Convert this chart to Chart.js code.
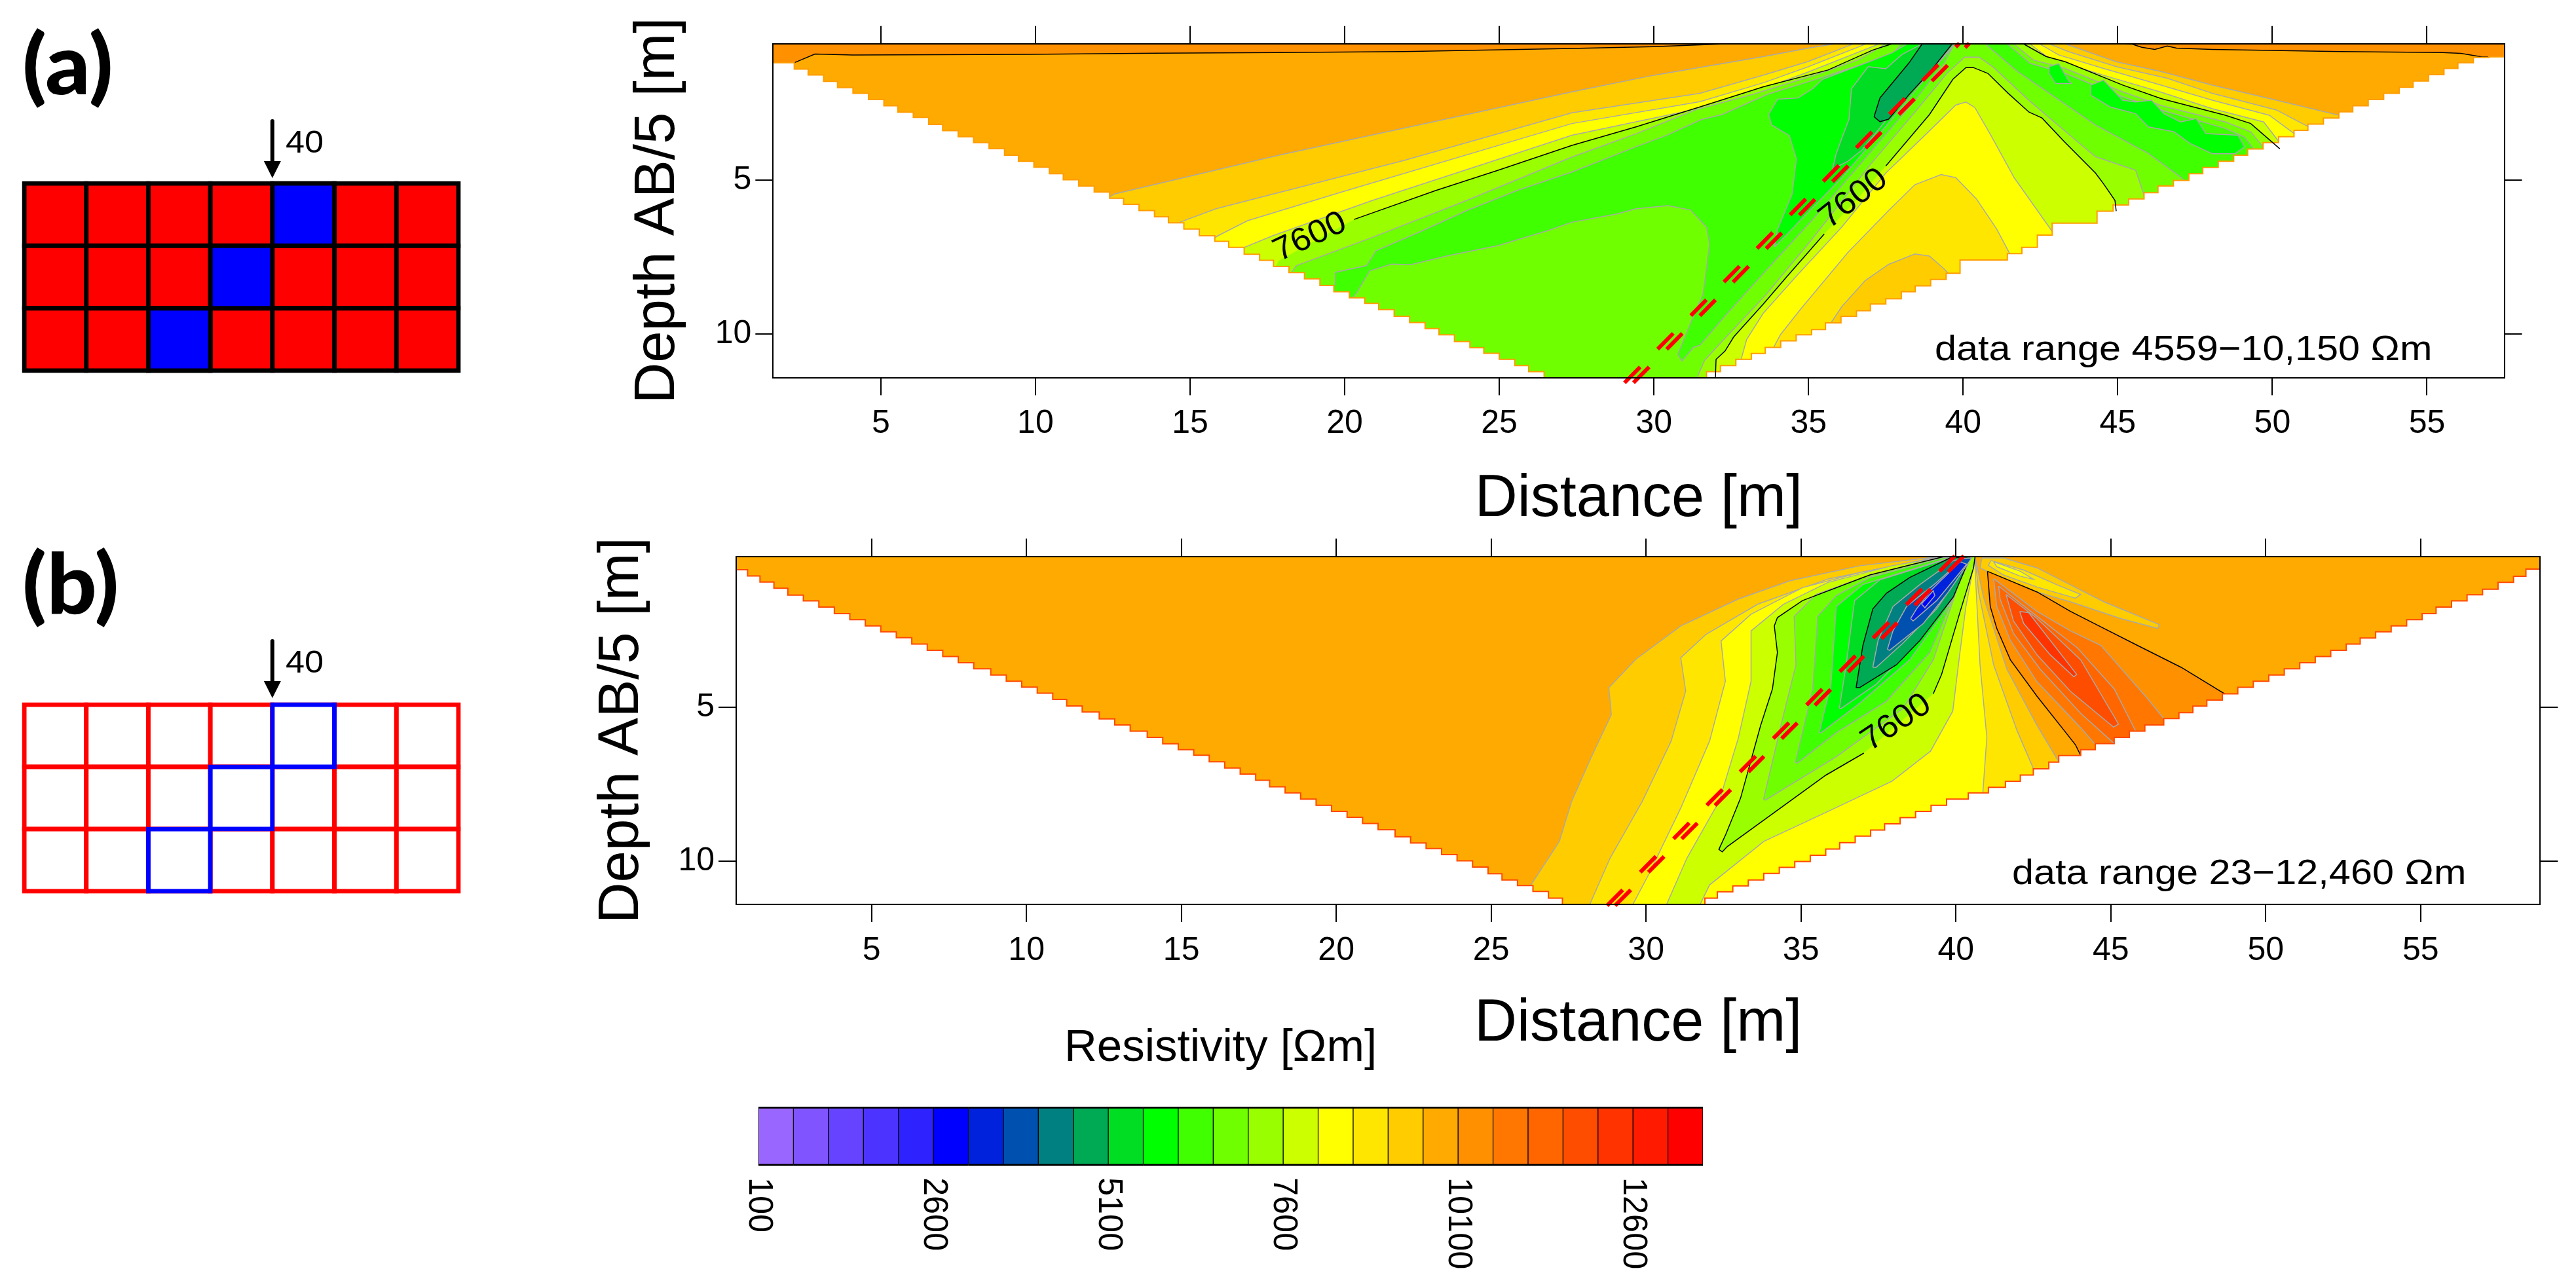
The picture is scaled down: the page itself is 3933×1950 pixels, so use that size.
<!DOCTYPE html>
<html>
<head>
<meta charset="utf-8">
<title>Resistivity sections</title>
<script src="https://cdn.jsdelivr.net/npm/chart.js@4"></script>
<style>
  body { margin: 0; background: #fff; width: 3933px; height: 1950px; overflow: hidden; position: relative; }
  canvas { position: absolute; }
</style>
</head>
<body>
<script>
// colour bar
const scaleEdges = [100,600,1100,1600,2100,2600,3100,3600,4100,4600,5100,5600,6100,6600,7100,7600,8100,8600,9100,9600,10100,10600,11100,11600,12100,12600,13100,13600];
const bandColors = ["#9966FF","#8055FF","#6644FF","#4D33FF","#2E22FF","#0000FF","#0022DD","#0050B0","#008080","#00AA55","#00DD22","#00FF00","#40FF00","#70FF00","#99FF00","#CCFF00","#FFFF00","#FFE600","#FFCC00","#FFAA00","#FF9000","#FF7700","#FF6600","#FF4D00","#FF3300","#FF1A00","#FF0000"];
const colorTicks = [100,2600,5100,7600,10100,12600];

// axis ticks
const xTicks = [5,10,15,20,25,30,35,40,45,50,55];
const yTicks = [5,10];

// block models: which column is the blue one in each row
const modelRows = ["row1","row2","row3"];
const modelColumns = [0,1,2,3,4,5,6];
const blueColumn = [4,3,2];

// section (a): lower edge of the pseudosection [distance, depth]
const aEdgeLeft = [[1.52,.96],[2.2,1.17],[2.65,1.38],[3.15,1.57],[3.6,1.78],[4.1,1.98],[4.6,2.17],[5.1,2.37],[5.55,2.57],[6.05,2.78],[6.55,2.95],[7,3.18],[7.5,3.38],[8,3.58],[8.5,3.77],[9,3.97],[9.45,4.18],[9.95,4.38],[10.45,4.57],[10.9,4.78],[11.4,4.98],[11.9,5.18],[12.4,5.38],[12.85,5.58],[13.35,5.78],[13.85,5.98],[14.3,6.18],[14.8,6.38],[15.3,6.58],[15.8,6.8],[16.25,6.98],[16.75,7.18],[17.25,7.4],[17.7,7.6],[18.2,7.8],[18.7,8],[19.2,8.2],[19.65,8.42],[20.15,8.62],[20.65,8.82],[21.1,9],[21.6,9.2],[22.1,9.42],[22.6,9.62],[23.05,9.82],[23.55,10.02],[24.05,10.24],[24.5,10.44],[25,10.62],[25.5,10.82],[25.95,11.02],[26.45,11.22],[26.95,11.42],[27.4,11.5]];
const aEdgeRight = [[31.7,11.5],[32.15,11.22],[32.65,11.02],[33.15,10.82],[33.6,10.63],[34.1,10.43],[34.6,10.22],[35.1,10.02],[35.55,9.85],[36.05,9.63],[36.55,9.42],[37,9.24],[37.5,9.02],[38,8.85],[38.45,8.62],[38.95,8.43],[39.45,8.22],[39.9,8.02],[41.43,7.59],[41.9,7.38],[42.4,7.18],[42.88,6.78],[44.33,6.39],[44.85,6],[45.35,5.8],[45.85,5.6],[46.3,5.4],[46.8,5.18],[47.3,5],[47.75,4.78],[48.25,4.58],[48.75,4.38],[49.2,4.18],[49.7,3.98],[50.2,3.77],[50.7,3.58],[51.15,3.37],[51.65,3.17],[52.15,2.97],[52.6,2.77],[53.1,2.57],[53.6,2.37],[54.1,2.17],[54.55,1.97],[55.05,1.77],[55.55,1.56],[56,1.36],[56.5,1.17],[57,1],[57.6,.98]];

// section (a): contour bands
const aBase = [[1,0],[58,0],[58,13],[1,13]];
const aOrange = [[1.4,1.3],[2.16,1.19],[2.87,.89],[4.09,.92],[9.76,.9],[13.82,.865],[17.87,.84],[21.92,.81],[27.35,.71],[30,.65],[32.3,.56],[33,.3],[44.5,.3],[44.95,.56],[45.47,.57],[45.78,.67],[46.2,.74],[46.6,.63],[46.9,.7],[48.06,.74],[52.2,.81],[55.5,.84],[56.1,.87],[56.76,.98],[57.5,1],[58,1],[58,13],[1.4,13]];
const aAmber = [[12.3,5.6],[12.56,5.44],[17.87,4.18],[27.35,2.12],[30,1.58],[33.56,.97],[35,.7],[35.84,.56],[36,.3],[43,.3],[43.3,.56],[44.95,1.14],[46.4,1.46],[48.06,1.9],[50.13,2.39],[52.6,2.99],[53,3.2],[53,13],[12.3,13]];
const aGold = [[14.4,6.5],[14.67,6.36],[15.84,5.92],[21.92,4.35],[27.35,2.8],[31.49,2.17],[33.56,1.57],[35,1.13],[36.46,.56],[36.6,.3],[42.6,.3],[42.78,.56],[43.4,.81],[44.95,1.3],[46.6,1.68],[48.06,2.17],[50.13,2.71],[51.48,3.42],[52,3.6],[52,13],[14.4,13]];
const aYellow = [[15.6,7],[15.9,6.8],[16.86,6.31],[19.9,5.38],[27.35,3.15],[31.49,2.44],[33.56,1.82],[35,1.3],[36.87,.56],[37,.3],[42.3,.3],[42.47,.56],[43.09,.92],[44.54,1.36],[46.4,1.9],[48.06,2.39],[49.9,2.88],[50.86,3.59],[51.2,3.8],[51.2,13],[15.6,13]];
const aLime = [[16.5,7.4],[16.75,7.18],[17.67,6.8],[20.9,5.65],[27.35,3.53],[31.49,2.66],[33.56,2],[35,1.47],[37.29,.56],[37.4,.3],[42,.3],[42.16,.56],[42.78,1.03],[44.54,1.58],[46.4,2.13],[48.06,2.67],[49.72,3.1],[50.34,3.91],[50.7,4.1],[50.7,13],[16.5,13]];
const aChartreuse = [[17.7,7.9],[17.87,7.61],[20.3,6.27],[22.94,5.33],[24.96,4.67],[27.35,3.86],[29.42,3.26],[31.49,2.61],[33.56,1.95],[35.63,1.41],[37.08,.76],[37.7,.56],[37.8,.3],[41.8,.3],[41.95,.56],[42.68,.97],[43.3,1.14],[45.16,1.9],[46.4,2.34],[48.48,2.88],[49.3,3.15],[50.24,3.97],[50.6,4.2],[50.6,13],[17.7,13]];
const aLawn = [[18.2,8.1],[18.44,7.77],[20.9,6.85],[23.95,5.65],[27.35,4.24],[29.46,3.47],[31.35,2.7],[33.24,2.19],[35.13,1.6],[36.64,1.07],[37.5,.556],[37.6,.3],[41.5,.3],[41.64,.56],[42.26,1.08],[43.3,1.36],[45.16,2.12],[46.4,2.56],[48.48,3.1],[49.3,3.42],[49.88,4.13],[50.2,4.4],[50.2,13],[18.2,13]];
const aBright = [[19.5,8.6],[19.69,8.37],[19.69,7.99],[20.71,7.77],[21.01,7.29],[22.53,6.63],[23.95,5.98],[25.57,5.33],[27.35,4.73],[29.46,3.89],[30.4,3.54],[31.54,3.02],[32.2,2.86],[33.7,2.19],[35.13,1.75],[36.74,1.22],[37.7,.92],[38,.556],[38.1,.3],[41.3,.3],[41.43,.56],[42.16,1.19],[43.3,1.52],[45.16,2.28],[46.4,2.71],[48.48,3.31],[49.1,3.59],[49.55,4.18],[49.9,4.4],[49.9,13],[19.5,13]];
const aPure = [[33.9,7.16],[34,6.59],[34.47,5.45],[34.61,4.3],[34.38,3.54],[33.81,3.2],[33.71,2.86],[34,2.36],[34.66,2.32],[35.13,2.02],[35.46,1.71],[36.93,1.15],[37.7,.85],[38.2,.556],[38.3,.3],[39.8,.3],[39.76,.556],[38.91,1.52],[37.5,3.24],[36.08,4.91],[34.75,6.28],[34.28,6.78]];
const aEmerald = [[35.75,4.76],[35.89,4.15],[36.08,3.62],[36.31,3.01],[36.39,2.02],[36.93,1.3],[37.5,1.37],[38.02,.91],[38.68,.556],[38.7,.3],[39.75,.3],[39.72,.556],[38.91,1.49],[37.78,2.7],[36.74,4],[36.27,4.38],[35.89,4.57]];
const aJade = [[37.12,2.93],[37.31,2.32],[37.68,1.87],[38.25,1.18],[38.68,.556],[38.8,.3],[39.7,.3],[39.65,.556],[38.91,1.49],[38.25,2.21],[37.59,3.01],[37.31,3.09]];
const aBlobNear = [[42.78,1.3],[43.09,1.2],[43.4,1.74],[43.5,1.85],[42.99,1.85],[42.78,1.52]];
const aBlobFar = [[44.13,1.9],[44.54,1.74],[45.16,2.39],[45.58,2.45],[46.09,2.39],[46.5,2.83],[47.03,3.1],[47.54,2.99],[47.85,3.48],[48.89,3.53],[49.1,3.91],[48.79,4.13],[48.06,4.13],[47.34,3.8],[46.82,3.42],[45.99,3.26],[45.58,2.83],[44.75,2.61],[44.13,2.23]];
const aLowerLawn = [[20.2,8.9],[20.4,8.64],[20.81,7.94],[21.52,7.72],[22.13,7.74],[23.34,7.45],[24.96,7.12],[26.58,6.63],[27.35,6.36],[28.8,6.09],[29.42,5.92],[30.46,5.82],[31.18,5.96],[31.7,6.52],[31.8,7.07],[31.59,8.7],[31.28,9.41],[30.77,10.66],[30.91,10.87],[31.28,10.43],[31.49,10.36],[32.3,9.41],[33.53,8.04],[35.13,6.28],[37.02,4.07],[38.44,2.4],[39.39,1.18],[39.72,.556],[39.8,.3],[40.6,.3],[40.71,.556],[41.75,1.45],[44.28,3.2],[46,4.13],[47.03,4.89],[47.34,5.2],[47.7,5.4],[47.7,13],[20.2,13]];
const aPeakChartreuse = [[31.4,11.41],[31.64,10.85],[32.2,10.24],[33.62,8.72],[35.13,6.89],[37.02,4.46],[38.44,2.78],[39.48,1.52],[40.05,.99],[40.52,.99],[40.99,1.33],[42.13,2.4],[43.64,3.69],[44.28,4.23],[45.58,4.67],[45.89,5.6],[46.5,5.9],[46.5,13],[31.4,13]];
const aPeakLime = [[31.99,13],[31.99,11.41],[32.01,10.82],[32.3,10.55],[32.58,10.09],[33.53,9.03],[34.28,8.15],[35.51,6.74],[36.55,5.64],[37.5,4.53],[38.91,2.86],[39.67,1.71],[40.09,1.33],[40.33,1.33],[40.8,1.52],[41.46,2.17],[42.13,2.78],[42.55,2.97],[43.26,3.73],[44.28,4.76],[44.54,5.11],[44.91,5.65],[44.95,6],[45.3,6.3],[45.3,13]];
const aPeakYellow = [[32.82,13],[32.82,10.82],[33,10.17],[33.53,9.33],[34.61,8.11],[36.08,6.51],[37.5,4.76],[38.91,3.39],[39.76,2.55],[40.09,2.45],[40.38,2.63],[40.9,3.54],[41.65,4.91],[42.88,6.66],[43.2,6.9],[43.2,13]];
const aPeakGold = [[33.6,13],[33.81,10.55],[34.09,10.02],[34.75,9.18],[36.27,7.35],[37.59,5.98],[38.44,5.14],[39.29,4.81],[39.76,4.91],[40.43,5.6],[41.09,6.59],[41.51,7.39],[41.8,7.6],[41.8,13]];
const aPeakAmber = [[35.4,13],[35.6,9.82],[36.08,9.1],[36.83,8.26],[37.59,7.73],[38.44,7.39],[38.91,7.46],[39.39,7.88],[39.67,8.19],[40,8.4],[40,13]];

// section (a): the 7600 contour, broken where its labels sit
const aContourUpper = [[20.3,6.27],[22.94,5.33],[24.96,4.67],[27.35,3.86],[29.42,3.26],[31.49,2.61],[33.56,1.95],[35.63,1.41],[37.08,.76],[37.7,.56]];
const aContourUpperRight = [[41.95,.56],[42.68,.97],[43.3,1.14],[45.16,1.9],[46.4,2.34],[48.48,2.88],[49.3,3.15],[50.24,3.97]];
const aContourLower = [[31.99,11.41],[32.01,10.82],[32.3,10.55],[32.58,10.09],[33.53,9.03],[34.28,8.15],[35.51,6.74]];
const aContourPeak = [[37.5,4.53],[38.91,2.86],[39.67,1.71],[40.09,1.33],[40.33,1.33],[40.8,1.52],[41.46,2.17],[42.13,2.78],[42.55,2.97],[43.26,3.73],[44.28,4.76],[44.54,5.11],[44.91,5.65],[44.95,6]];

// section (a): dipping dyke
const aDykeLeft = [[29.05,11.58],[39.88,.54]];
const aDykeRight = [[29.34,11.58],[40.2,.54]];

// section (b): lower edge of the pseudosection
const bEdgeLeft = [[.63,.45],[1,.55],[1.4,.75],[1.85,.95],[2.3,1.15],[2.8,1.37],[3.3,1.56],[3.8,1.76],[4.3,1.97],[4.8,2.17],[5.3,2.37],[5.8,2.56],[6.3,2.75],[6.8,2.96],[7.3,3.16],[7.8,3.36],[8.3,3.56],[8.85,3.76],[9.35,3.96],[9.85,4.16],[10.35,4.35],[10.85,4.55],[11.3,4.75],[11.8,4.96],[12.35,5.16],[12.85,5.38],[13.35,5.58],[13.9,5.78],[14.4,5.98],[14.9,6.19],[15.4,6.38],[15.9,6.56],[16.4,6.77],[16.9,6.97],[17.4,7.17],[17.85,7.37],[18.35,7.58],[18.85,7.78],[19.35,7.98],[19.85,8.18],[20.35,8.38],[20.85,8.57],[21.35,8.77],[21.9,8.97],[22.4,9.2],[22.9,9.4],[23.4,9.58],[23.9,9.78],[24.4,9.98],[24.9,10.18],[25.35,10.4],[25.85,10.6],[26.35,10.78],[26.85,10.97],[27.3,11.19],[27.7,11.42]];
const bEdgeRight = [[31.9,11.42],[32.3,11.19],[32.8,10.98],[33.3,10.79],[33.8,10.6],[34.3,10.39],[34.8,10.19],[35.3,10],[35.8,9.8],[36.25,9.6],[36.75,9.39],[37.25,9.18],[37.7,8.98],[38.2,8.78],[38.7,8.58],[39.2,8.38],[39.7,8.18],[40.4,7.98],[41.05,7.78],[41.6,7.6],[42.08,7.4],[42.5,7.2],[43,7],[43.32,6.78],[44.03,6.57],[44.5,6.38],[45.11,6.18],[45.6,5.98],[46.1,5.78],[46.71,5.58],[47.2,5.37],[47.65,5.18],[48.1,4.97],[48.6,4.77],[49.1,4.57],[49.6,4.36],[50.1,4.16],[50.6,3.96],[51.1,3.76],[51.6,3.56],[52.1,3.36],[52.6,3.16],[53.05,2.96],[53.55,2.76],[54.05,2.56],[54.55,2.37],[55.05,2.17],[55.5,1.97],[56,1.76],[56.5,1.56],[57,1.36],[57.5,1.18],[58,.96],[58.4,.76],[59,.53]];

// section (b): contour bands
const bBase = [[0,-1],[60,-1],[60,13],[0,13]];
const bAmber = [[26,13],[26.27,10.78],[27.2,9.35],[27.6,8.05],[28.22,6.65],[28.88,5.24],[28.8,4.37],[29.67,3.45],[31.12,2.37],[32.98,1.5],[34.63,.91],[36.91,.42],[39.49,.12],[39.6,-.2],[40.6,-.2],[40.62,.13],[40.89,1.43],[41.65,3.78],[42.62,5.59],[43.32,6.77],[43.6,7.1],[43.6,13]];
const bGold = [[28.18,13],[28.18,11.4],[28.84,9.89],[29.88,8.05],[30.81,6.1],[31.28,4.48],[31.12,3.4],[31.94,2.64],[33.6,1.67],[35.87,.85],[39.49,.12],[39.6,-.2],[40.6,-.2],[40.62,.13],[40.73,1.27],[41.22,3.63],[41.97,5.75],[42.51,7.01],[42.8,7.3],[42.8,13]];
const bYellow = [[29.57,13],[29.57,11.4],[30.08,10.43],[31.12,8.27],[32.05,6.1],[32.56,4.16],[32.42,2.86],[33.39,1.99],[35.05,1.13],[36.91,.64],[39.59,.12],[39.7,-.2],[40.55,-.2],[40.6,.13],[40.78,3.63],[41,5.98],[40.87,7.78],[41,8.1],[41,13]];
const bLime = [[30.66,13],[30.66,11.4],[31.32,9.89],[32.36,8.05],[32.98,6],[33.39,4.16],[33.39,2.53],[34.43,1.67],[35.87,.96],[37.94,.42],[39.7,.12],[39.8,-.2],[40.6,-.2],[40.63,.12],[40.32,1.77],[40.11,3.4],[39.9,5.13],[39.18,6.43],[37.94,7.4],[35.87,8.38],[33.8,9.35],[32.05,10.76],[31.74,11.4],[31.74,13]];
const bChartreuse = [[32.46,9.69],[32.35,9.61],[32.57,9.13],[33.05,7.95],[33.7,5.59],[34.08,4.41],[34.24,3.23],[34.14,2.37],[34.24,2.1],[35.05,1.55],[37.22,.72],[39.59,.13],[40.62,.13],[40.57,.49],[40.14,1.9],[39.54,3.94],[39.27,4.57],[37.03,6.49],[35.81,7.2],[32.62,9.52]];
const bLawn = [[33.79,7.99],[34.41,5.36],[34.84,3.63],[34.78,2.06],[35.49,1.35],[37,.8],[39.38,.17],[40.35,.13],[40.24,.56],[39.27,3.47],[38.3,5.04],[36.14,6.61],[33.86,8.01]];
const bBright = [[34.82,6.79],[35.38,4.41],[35.54,2.06],[36.14,1.39],[37.22,.8],[39.59,.16],[40.35,.13],[40.35,.41],[39.16,3.23],[37.76,4.81],[36.14,5.83],[34.89,6.81]];
const bPure = [[35.59,5.83],[35.97,4.26],[36.14,1.74],[37,1.03],[39.7,.19],[40.41,.13],[40.41,.33],[39.7,1.82],[38.51,3.47],[36.89,4.88],[35.65,5.83]];
const bEmerald = [[36.24,5.04],[36.46,3.63],[36.73,1.55],[37.54,.88],[39.7,.21],[40.44,.13],[40.44,.25],[39.86,1.51],[38.73,2.92],[37.43,4.26],[36.3,5.04]];
const bJade = [[36.78,4.37],[37,3],[37.32,1.82],[37.76,1.31],[38.51,.8],[39.81,.17],[40.46,.13],[39.92,1.43],[38.84,2.84],[38.08,3.63],[36.89,4.37]];
const bTeal = [[37.32,3.71],[37.49,2.84],[37.97,1.74],[38.84,1.03],[39.92,.25],[40.49,.17],[39.38,1.82],[38.3,2.92],[37.43,3.71]];
const bSteel = [[37.79,3.13],[37.97,2.53],[38.41,1.74],[39.38,.96],[40.24,.19],[40.51,.17],[39.76,1.27],[38.95,2.29],[37.86,3.16]];
const bCobalt = [[38.54,2.13],[38.73,1.82],[39.22,1.19],[40.14,.29],[40.35,.37],[39.38,1.55],[38.62,2.21]];
const bBlue = [[38.89,1.66],[39.27,1.23],[39.32,1.39],[39,1.78]];
const bStripAmber = [[40.84,.17],[41.54,.17],[42.62,.49],[43.7,1.04],[44.78,1.59],[46.57,2.33],[46.51,2.45],[45.32,2.13],[43.7,1.59],[42.08,1.11],[40.78,.49]];
const bStripGold = [[41.13,.25],[42.19,.56],[43.27,1.04],[44.03,1.35],[43.86,1.47],[42.62,1.11],[41.54,.72],[41.05,.41]];
const bStripYellow = [[41.22,.29],[42.08,.6],[42.51,.86],[42.08,.76],[41.32,.45]];
const bFanOrange = [[41.02,.6],[42.62,1.27],[43.7,1.9],[44.78,2.45],[45.86,3],[47.27,3.71],[48.68,4.57],[49,5],[49,13],[44.03,13],[44.03,6.57],[43.86,6.22],[43.49,5.75],[42.62,4.65],[41.76,3.47],[41.32,2.45],[41.11,1.74]];
const bFanDeep = [[41.22,.84],[42.62,1.9],[43.7,2.53],[44.68,3],[46.19,4.73],[46.71,5.37],[47,5.7],[47,13],[44.51,13],[44.51,6.22],[44.03,5.67],[42.62,4.18],[41.76,2.84],[41.32,1.74]];
const bFanRed = [[41.38,1.08],[42.62,2.06],[43.92,3.08],[45.11,4.41],[45.81,5.79],[46.1,6],[46.1,13],[45.11,13],[45.11,6.18],[44.03,5.2],[42.73,3.78],[41.86,2.61],[41.43,1.51]];
const bFanVermilion = [[41.62,1.35],[42.62,2.13],[44.03,3.47],[45.25,5.55],[45.09,5.65],[43.7,4.49],[42.62,3.31],[41.86,2.21]];
const bFanScarlet = [[42.06,1.9],[42.35,1.94],[43.9,3.94],[43.81,4.02],[43.05,3.31],[42.19,2.29]];

// section (b): the 7600 contour, broken at its label
const bContour = [[39.27,4.57],[39.54,3.94],[40.14,1.9],[40.57,.49],[40.62,.13],[39.59,.13],[37.22,.72],[35.05,1.55],[34.24,2.1],[34.14,2.37],[34.24,3.23],[34.08,4.41],[33.7,5.59],[33.05,7.95],[32.57,9.13],[32.35,9.61],[32.46,9.69],[32.62,9.52],[35.81,7.2],[37.03,6.49]];

// section (b): dipping dyke
const bDykeLeft = [[28.74,11.43],[39.97,.1]];
const bDykeRight = [[29,11.43],[40.26,.1]];

const GREY = "#A9A9A9";
const BLACK = "#000000";
const FONT = '"Liberation Sans"';

// [points, colour index, pen]
const aLayers = [
  [aBase, 20, null], [aOrange, 19, BLACK], [aAmber, 18, GREY], [aGold, 17, GREY], [aYellow, 16, GREY],
  [aLime, 15, GREY], [aChartreuse, 14, null], [aLawn, 13, GREY], [aBright, 12, GREY], [aPure, 11, GREY],
  [aEmerald, 10, GREY], [aJade, 9, BLACK], [aBlobNear, 11, GREY], [aBlobFar, 11, GREY], [aLowerLawn, 13, GREY],
  [aPeakChartreuse, 14, GREY], [aPeakLime, 15, null], [aPeakYellow, 16, GREY], [aPeakGold, 17, GREY], [aPeakAmber, 18, GREY]
];
const bLayers = [
  [bBase, 19, null], [bAmber, 18, GREY], [bStripAmber, 18, GREY], [bStripGold, 17, GREY], [bStripYellow, 16, GREY],
  [bGold, 17, GREY], [bYellow, 16, GREY], [bLime, 15, GREY], [bChartreuse, 14, null], [bLawn, 13, GREY],
  [bBright, 12, GREY], [bPure, 11, GREY], [bEmerald, 10, GREY], [bJade, 9, BLACK], [bTeal, 8, GREY],
  [bSteel, 7, GREY], [bCobalt, 6, GREY], [bBlue, 5, GREY],
  [bFanOrange, 20, BLACK], [bFanDeep, 21, GREY], [bFanRed, 22, GREY], [bFanVermilion, 23, GREY], [bFanScarlet, 24, GREY]
];

function addCanvas(left, top, width, height) {
  const canvas = document.createElement("canvas");
  canvas.width = width;
  canvas.height = height;
  canvas.style.left = left + "px";
  canvas.style.top = top + "px";
  canvas.style.width = width + "px";
  canvas.style.height = height + "px";
  document.body.appendChild(canvas);
  return canvas;
}

// text the axes do not provide; items get the chart so they can use its scales
function textPlugin(items) {
  return {
    id: "texts",
    afterDraw(chart) {
      const ctx = chart.ctx;
      items(chart).forEach((t) => {
        ctx.save();
        ctx.translate(t.x, t.y);
        ctx.rotate(((t.angle || 0) * Math.PI) / 180);
        ctx.scale(t.stretch || 1, 1);
        ctx.font = (t.weight || "normal") + " " + t.size + "px " + (t.family || FONT);
        ctx.textAlign = t.align || "left";
        ctx.textBaseline = t.baseline || "alphabetic";
        ctx.fillStyle = BLACK;
        ctx.fillText(t.text, 0, 0);
        ctx.restore();
      });
    },
  };
}

function toXY(points) {
  return points.map((p) => ({ x: p[0], y: p[1] }));
}

function polygon(points, color, pen) {
  const closed = points.concat([points[0]]);
  return {
    data: toXY(closed),
    showLine: true,
    fill: "shape",
    backgroundColor: color,
    borderColor: pen || color,
    borderWidth: pen ? 1.5 : 0,
    tension: 0,
    pointRadius: 0,
  };
}

function contourLine(points) {
  return { data: toXY(points), showLine: true, fill: false, borderColor: BLACK, borderWidth: 1.5, tension: 0, pointRadius: 0 };
}

function dyke(points) {
  return { data: toXY(points), showLine: true, fill: false, borderColor: "#FF0000", borderWidth: 6, borderDash: [34, 38], tension: 0, pointRadius: 0, clip: 14 };
}

function edgeMask(points, edgeColor) {
  return { data: toXY(points), showLine: true, fill: "shape", stepped: "after", backgroundColor: "#FFFFFF", borderColor: edgeColor, borderWidth: 2, tension: 0, pointRadius: 0 };
}

function section(box, p) {
  const canvas = addCanvas(box.left, box.top, box.width, box.height);
  const datasets = p.layers.map((l) => polygon(l[0], bandColors[l[1]], l[2]));
  datasets.push(edgeMask([[0, p.edgeLeft[0][1]]].concat(p.edgeLeft, [[p.edgeLeft[p.edgeLeft.length - 1][0], 13], [0, 13]]), p.edgeColor));
  datasets.push(edgeMask([[p.edgeRight[0][0], 13]].concat(p.edgeRight, [[62, p.edgeRight[p.edgeRight.length - 1][1]], [62, 13]]), p.edgeColor));
  p.contours.forEach((c) => datasets.push(contourLine(c)));
  p.dykes.forEach((d) => datasets.push(dyke(d)));
  datasets.forEach((d, i) => { d.order = -i; });

  const tickMarks = { color: BLACK, lineWidth: 2, drawOnChartArea: false, tickLength: 27 };
  const frame = { display: true, color: BLACK, width: 2, z: 1 };
  const setX = (s) => { s.ticks = xTicks.map((v) => ({ value: v })); };
  const setY = (s) => { s.ticks = yTicks.map((v) => ({ value: v })); };

  return new Chart(canvas, {
    type: "scatter",
    data: { datasets },
    plugins: [textPlugin(p.texts)],
    options: {
      responsive: false,
      animation: false,
      devicePixelRatio: 1,
      events: [],
      layout: { padding: 0 },
      plugins: { legend: { display: false }, tooltip: { enabled: false } },
      scales: {
        x: {
          type: "linear", min: p.xMin, max: p.xMax, position: "bottom",
          afterBuildTicks: setX,
          afterFit: (s) => { s.height = box.marginBottom; },
          grid: tickMarks, border: frame,
          ticks: { color: BLACK, font: { family: FONT, size: 50 }, padding: p.xTickPad, maxRotation: 0, autoSkip: false },
          title: { display: true, text: "Distance [m]", color: BLACK, font: { family: FONT, size: 90 }, padding: { top: 0, bottom: p.xTitlePad } },
        },
        y: {
          type: "linear", min: p.yMin, max: p.yMax, reverse: true, position: "left",
          afterBuildTicks: setY,
          afterFit: (s) => { s.width = box.marginLeft; },
          grid: tickMarks, border: frame,
          ticks: { color: BLACK, font: { family: FONT, size: 50 }, padding: 6, autoSkip: false },
          title: { display: true, text: "Depth AB/5 [m]", color: BLACK, font: { family: FONT, size: 87 }, padding: { top: p.yTitlePad, bottom: 0 } },
        },
        xTop: {
          type: "linear", axis: "x", min: p.xMin, max: p.xMax, position: "top",
          afterBuildTicks: setX,
          afterFit: (s) => { s.height = box.marginTop; },
          grid: tickMarks, border: frame, ticks: { display: false },
        },
        yRight: {
          type: "linear", axis: "y", min: p.yMin, max: p.yMax, reverse: true, position: "right",
          afterBuildTicks: setY,
          afterFit: (s) => { s.width = box.marginRight; },
          grid: tickMarks, border: frame, ticks: { display: false },
        },
      },
    },
  });
}

function contourLabel(chart, d, depth, angle) {
  return { text: "7600", x: chart.scales.x.getPixelForValue(d), y: chart.scales.y.getPixelForValue(depth), angle, size: 50, stretch: 1.05, align: "center", baseline: "middle" };
}

section(
  { left: 900, top: 0, width: 3033, height: 830, marginLeft: 280.3, marginTop: 66.8, marginRight: 109.5, marginBottom: 253.5 },
  {
    layers: aLayers, edgeLeft: aEdgeLeft, edgeRight: aEdgeRight, edgeColor: "#FF9C00",
    contours: [aContourUpper, aContourUpperRight, aContourLower, aContourPeak],
    dykes: [aDykeLeft, aDykeRight],
    xMin: 1.515, xMax: 57.5, yMin: 0.556, yMax: 11.41,
    xTickPad: 14, xTitlePad: 13, yTitlePad: 53,
    texts: (chart) => [
      contourLabel(chart, 18.88, 6.85, -25),
      contourLabel(chart, 36.46, 5.6, -38),
      { text: "data range 4559\u221210,150 \u03A9m", x: 2954 - 900, y: 550, size: 54, stretch: 1.1 },
    ],
  }
);

section(
  { left: 850, top: 790, width: 3083, height: 830, marginLeft: 274, marginTop: 59.5, marginRight: 54.7, marginBottom: 239 },
  {
    layers: bLayers, edgeLeft: bEdgeLeft, edgeRight: bEdgeRight, edgeColor: "#FF4A00",
    contours: [bContour],
    dykes: [bDykeLeft, bDykeRight],
    xMin: 0.632, xMax: 58.86, yMin: 0.115, yMax: 11.39,
    xTickPad: 14, xTitlePad: 2, yTitlePad: 48,
    texts: (chart) => [
      contourLabel(chart, 38.08, 5.51, -34),
      { text: "data range 23\u221212,460 \u03A9m", x: 3072 - 850, y: 1350 - 790, size: 54, stretch: 1.1 },
    ],
  }
);

// colour bar
new Chart(addCanvas(1100, 1540, 1600, 410), {
  type: "bar",
  data: {
    labels: ["Resistivity"],
    datasets: bandColors.map((color, i) => ({
      data: [[scaleEdges[i], scaleEdges[i + 1]]],
      backgroundColor: color,
      borderColor: BLACK,
      borderWidth: { top: 3, bottom: 3, left: 1, right: 1 },
      borderSkipped: false,
      grouped: false,
      barPercentage: 1,
      categoryPercentage: 1,
      clip: 4,
    })),
  },
  plugins: [
    textPlugin((chart) => [
      { text: "Resistivity [\u03A9m]", x: 525, y: 80, size: 69 },
    ].concat(colorTicks.map((v) => ({
      text: String(v), x: chart.scales.x.getPixelForValue(v), y: 258, angle: 90, size: 52, stretch: 0.97, baseline: "middle",
    })))),
  ],
  options: {
    indexAxis: "y",
    responsive: false,
    animation: false,
    devicePixelRatio: 1,
    events: [],
    layout: { padding: { left: 58, right: 100, top: 150, bottom: 170 } },
    plugins: { legend: { display: false }, tooltip: { enabled: false } },
    scales: {
      x: { type: "linear", min: scaleEdges[0], max: scaleEdges[scaleEdges.length - 1], display: false },
      y: { display: false },
    },
  },
});

function blockModel(box, m) {
  const cell = (c) => modelRows.map(() => [c, c + 1]);
  const datasets = modelColumns.map((c) => ({
    data: cell(c),
    backgroundColor: m.cellFill,
    borderColor: m.cellPen,
  }));
  datasets.push({
    data: blueColumn.map((c) => [c, c + 1]),
    backgroundColor: m.blueFill,
    borderColor: m.bluePen,
  });
  datasets.forEach((d, i) => {
    d.order = -i;
    d.borderWidth = 7;
    d.borderSkipped = false;
    d.inflateAmount = 3.5;
    d.grouped = false;
    d.barPercentage = 1;
    d.categoryPercentage = 1;
    d.clip = 10;
  });
  new Chart(addCanvas(box.left, box.top, box.width, box.height), {
    type: "bar",
    data: { labels: modelRows, datasets },
    plugins: [
      textPlugin(() => [
        { text: m.label, x: 34, y: m.labelY, size: 128, stretch: 1.05, weight: "900", family: "Lato" },
        { text: "40", x: 436, y: m.numberY, size: 48, stretch: 1.09 },
      ]),
      {
        id: "arrow",
        afterDraw(chart) {
          const ctx = chart.ctx;
          const x = chart.scales.x.getPixelForValue(m.arrowAt);
          ctx.save();
          ctx.strokeStyle = BLACK;
          ctx.fillStyle = BLACK;
          ctx.lineWidth = 6;
          ctx.lineCap = "round";
          ctx.beginPath();
          ctx.moveTo(x, m.arrowTop);
          ctx.lineTo(x, m.arrowTip - 20);
          ctx.stroke();
          ctx.beginPath();
          ctx.moveTo(x - 13, m.headTop);
          ctx.lineTo(x + 13, m.headTop);
          ctx.lineTo(x, m.arrowTip);
          ctx.closePath();
          ctx.fill();
          ctx.restore();
        },
      },
    ],
    options: {
      indexAxis: "y",
      responsive: false,
      animation: false,
      devicePixelRatio: 1,
      events: [],
      layout: { padding: { left: box.plotLeft, right: box.width - box.plotRight, top: box.plotTop, bottom: box.height - box.plotBottom } },
      plugins: { legend: { display: false }, tooltip: { enabled: false } },
      scales: {
        x: { type: "linear", min: 0, max: modelColumns.length, display: false },
        y: { type: "category", display: false },
      },
    },
  });
}

blockModel(
  { left: 0, top: 0, width: 800, height: 700, plotLeft: 37, plotRight: 700, plotTop: 280, plotBottom: 566 },
  { label: "(a)", labelY: 144, numberY: 233, cellFill: "#FF0000", cellPen: BLACK, blueFill: "#0000FF", bluePen: BLACK, arrowAt: 4, arrowTop: 185, arrowTip: 272, headTop: 246 }
);
blockModel(
  { left: 0, top: 800, width: 800, height: 650, plotLeft: 37, plotRight: 700, plotTop: 276, plotBottom: 561 },
  { label: "(b)", labelY: 137, numberY: 227, cellFill: "#FFFFFF", cellPen: "#FF0000", blueFill: "#FFFFFF", bluePen: "#0000FF", arrowAt: 4, arrowTop: 179, arrowTip: 266, headTop: 240 }
);
</script>
</body>
</html>
